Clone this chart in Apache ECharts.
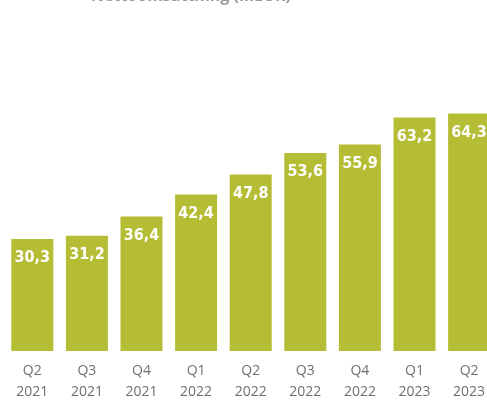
<!DOCTYPE html>
<html><head><meta charset="utf-8">
<script src="https://cdn.jsdelivr.net/npm/echarts@6/dist/echarts.min.js"></script>
<style>html,body{margin:0;padding:0;background:#fff}#c{width:487px;height:401px}</style>
</head><body><div id="c"></div>
<script>
const titleText = 'Nettoomsättning (MEUR)';
const quarters = ['Q2','Q3','Q4','Q1','Q2','Q3','Q4','Q1','Q2'];
const years = ['2021','2021','2021','2022','2022','2022','2022','2023','2023'];
const values = [30.3, 31.2, 36.4, 42.4, 47.8, 53.6, 55.9, 63.2, 64.3];
const categories = quarters.map((q,i)=>q+'\n'+years[i]);

const chart = echarts.init(document.getElementById('c'), null, {renderer:'canvas'});
chart.setOption({
  animation:false,
  title:{text:titleText,left:186,textAlign:'center',top:-16.5,
    textStyle:{fontFamily:'Open Sans',fontSize:16,fontWeight:'bold',color:'#999999'}},
  grid:{left:5,top:92.5,bottom:50,right:-9.4,containLabel:false,outerBoundsMode:'none'},
  xAxis:{type:'category',data:categories,
    axisLine:{show:false},axisTick:{show:false},
    axisLabel:{margin:10,lineHeight:21,fontFamily:'Open Sans',fontSize:14,color:'#6f6f6f',interval:0}},
  yAxis:{type:'value',min:0,max:70,show:false,splitLine:{show:false}},
  series:[{type:'bar',data:values,barWidth:42,
    itemStyle:{color:'#b5bd34'},
    label:{show:true,position:'insideTop',distance:11,color:'#fff',
      fontFamily:'DejaVu Sans Condensed',fontWeight:'bold',fontSize:16,
      formatter:p=>p.value.toFixed(1).replace('.',',')}}]
});
</script></body></html>
